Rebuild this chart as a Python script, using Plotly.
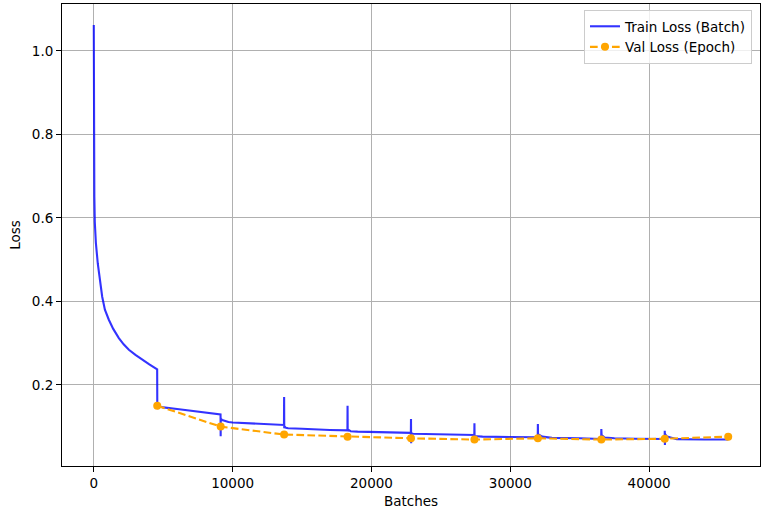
import plotly.graph_objects as go

# Training loss per batch
train_batches = [0, 4, 8, 15, 25, 40, 72, 150, 289, 450, 606, 800, 1083, 1400, 1805, 2150, 2527, 3000, 3495, 4000, 4565,
                 4570, 4575, 4590, 4620, 4700, 5000, 6000, 7000, 8000, 9130,
                 9140, 9145, 9160, 9250, 9500, 9700, 10000, 11000, 12000, 13000, 13700,
                 13710, 13720, 13760, 13850, 14000, 15000, 16000, 17000, 18270,
                 18280, 18290, 18350, 18500, 19000, 20000, 21000, 22000, 22840,
                 22850, 22860, 22870, 23000, 24000, 25000, 26000, 27410,
                 27420, 27430, 27600, 28000, 30000, 31980,
                 31990, 32000, 32300, 33000, 35000, 36550,
                 36560, 36580, 36800, 37500, 39000, 41120,
                 41130, 41140, 41150, 41300, 41600, 42000, 44000, 45700]
train_loss = [1.062, 0.95, 0.85, 0.76, 0.70, 0.65, 0.59, 0.54, 0.49, 0.445, 0.411, 0.38, 0.356, 0.334, 0.312, 0.297, 0.284, 0.272, 0.260, 0.249, 0.237,
              0.237, 0.142, 0.157, 0.152, 0.149, 0.146, 0.142, 0.138, 0.134, 0.129,
              0.077, 0.121, 0.118, 0.116, 0.113, 0.111, 0.110, 0.108, 0.106, 0.105, 0.104,
              0.171, 0.096, 0.100, 0.097, 0.096, 0.095, 0.093, 0.092, 0.091,
              0.150, 0.089, 0.092, 0.089, 0.088, 0.087, 0.086, 0.086, 0.085,
              0.118, 0.060, 0.084, 0.083, 0.082, 0.081, 0.080, 0.080,
              0.108, 0.077, 0.077, 0.076, 0.075, 0.0745,
              0.106, 0.082, 0.076, 0.073, 0.072, 0.0705,
              0.094, 0.080, 0.074, 0.072, 0.071, 0.0705,
              0.090, 0.056, 0.082, 0.076, 0.073, 0.070, 0.069, 0.069]

# Validation loss per epoch
val_batches = [4570, 9140, 13710, 18280, 22850, 27420, 31990, 36560, 41130, 45700]
val_loss = [0.150, 0.100, 0.081, 0.076, 0.072, 0.069, 0.072, 0.069, 0.071, 0.076]

x_ticks = [0, 10000, 20000, 30000, 40000]
y_ticks = [0.2, 0.4, 0.6, 0.8, 1.0]

font = dict(family="DejaVu Sans", size=13.5, color="black")

fig = go.Figure()
fig.add_trace(go.Scatter(
    x=train_batches, y=train_loss, mode="lines", name="Train Loss (Batch)",
    line=dict(color="rgba(0,0,255,0.8)", width=2.1),
))
fig.add_trace(go.Scatter(
    x=val_batches, y=val_loss, mode="lines+markers", name="Val Loss (Epoch)",
    line=dict(color="#FFA500", width=2.1, dash="7.7px,3.3px"),
    marker=dict(color="#FFA500", size=8),
))

axis_common = dict(
    showline=True, mirror=True, linecolor="black", linewidth=1,
    showgrid=True, gridcolor="#b0b0b0", gridwidth=1,
    ticks="outside", ticklen=5, tickwidth=1, tickcolor="black",
    zeroline=False, tickfont=font, automargin=False,
)

fig.update_layout(
    width=768, height=513,
    margin=dict(l=62, r=8, t=4, b=47),
    paper_bgcolor="white", plot_bgcolor="white",
    font=font,
    xaxis=dict(range=[-2290, 47990], tickvals=x_ticks, ticktext=[str(v) for v in x_ticks],
               title=dict(text="Batches", font=font, standoff=6), **axis_common),
    yaxis=dict(range=[0.0057, 1.112], tickvals=y_ticks, ticktext=[f"{v:.1f}" for v in y_ticks],
               title=dict(text="Loss", font=font, standoff=8), **axis_common),
    legend=dict(x=0.9885, y=0.987, xanchor="right", yanchor="top",
                bgcolor="rgba(255,255,255,0.8)", bordercolor="#cccccc", borderwidth=1,
                font=font, tracegroupgap=0, itemwidth=30),
    showlegend=True,
)

fig.write_html("out.html", config={"displayModeBar": False},
               post_script="document.body.style.margin='0';")
